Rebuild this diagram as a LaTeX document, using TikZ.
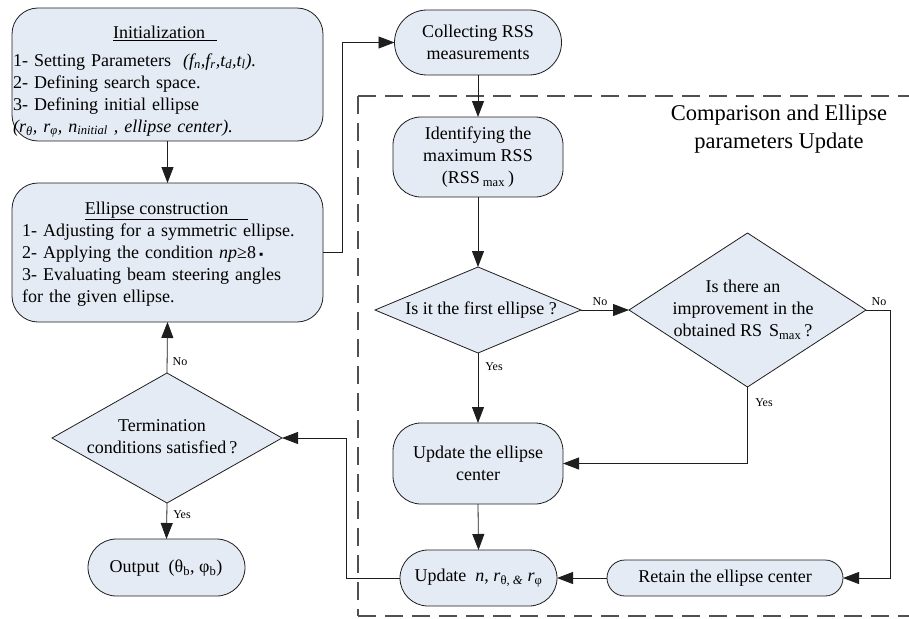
\documentclass[tikz,border=0pt]{standalone}
\usepackage{fontspec}
\setmainfont{Liberation Serif}
\usetikzlibrary{arrows.meta,shapes.geometric}
\definecolor{boxfill}{RGB}{229,235,244}
\definecolor{dashcol}{RGB}{80,80,80}
\definecolor{linecol}{RGB}{30,30,30}
\newcommand\mysub[1]{\textsubscript{#1}}
\tikzset{
  box/.style={draw=linecol, line width=0.8pt, fill=boxfill, rounded corners=26pt, inner sep=0pt, outer sep=0pt},
  dec/.style={diamond, draw=linecol, line width=0.8pt, fill=boxfill, inner sep=0pt, outer sep=0pt},
  txt/.style={font=\fontsize{18}{22}\selectfont, align=center, inner sep=0pt},
  lbl/.style={font=\fontsize{12}{14}\selectfont, inner sep=0pt},
  conn/.style={draw=linecol, line width=0.8pt, -{Triangle[length=16pt,width=12pt]}},
  plain/.style={draw=linecol, line width=0.8pt},
  dashframe/.style={draw=dashcol, line width=2.5pt, dash pattern=on 18pt off 9pt}
}
\begin{document}
\begin{tikzpicture}[x=1pt,y=-1pt]
\useasboundingbox (0,0) rectangle (909,618);
% dashed region
\coordinate (dtl) at (358,96);
\coordinate (dbl) at (358,616);
\coordinate (dtr) at (912,96);
\coordinate (dbr) at (912,616);
\draw[dashframe] (dtl) -- (dtr);
\draw[dashframe] (dtl) -- (dbl);
\draw[dashframe] (dbl) -- (dbr);
\node[txt, font=\fontsize{22.5}{28}\selectfont] (cmp) at (779,129) {Comparison and Ellipse\\parameters Update};

% left column
\node[box, minimum width=311pt, minimum height=133pt] (init) at (167.5,74.5) {};
\node[txt, anchor=base] (inittitle) at (165,39) {\underline{Initialization\hspace{12pt}}};
\node[txt, text width=305pt, align=left, anchor=north west] (inittxt) at (13,50.6) {\strut 1- Setting Parameters \ \textit{(f\mysub{n},f\mysub{r},t\mysub{d},t\mysub{l}).}\\
2- Defining search space.\\
3- Defining initial ellipse\\
\textit{(r\mysub{θ}, r\mysub{φ}, n\mysub{initial} , ellipse center).}};

\node[box, minimum width=311pt, minimum height=139pt] (ellc) at (167.5,252.5) {};
\node[txt, anchor=base] (ellctitle) at (166.5,214) {\underline{Ellipse construction\hspace{20pt}}};
\node[txt, text width=292pt, align=left, anchor=north west] (ellctxt) at (22,220.6) {\strut 1- Adjusting for a symmetric ellipse.\\
2- Applying the condition \textit{np}≥8\,{\fontsize{12}{12}\selectfont ▪}\\
3- Evaluating beam steering angles\\
for the given ellipse.};

\node[dec, minimum width=230pt, minimum height=130pt] (term) at (167,438) {};
\node[txt] (termtxt) at (162,437) {Termination\\conditions satisfied\,?};

\node[box, rounded corners=28.5pt, minimum width=157pt, minimum height=57pt] (out) at (166.5,567.5) {};
\node[txt] (outtxt) at (166,568) {Output \ (θ\mysub{b}, φ\mysub{b})};

% right column
\node[box, txt, rounded corners=32.5pt, minimum width=167pt, minimum height=65pt] (coll) at (478,42.5) {Collecting RSS\\measurements};
\node[box, txt, rounded corners=28pt, minimum width=170pt, minimum height=80pt] (ident) at (478,157) {Identifying the\\maximum RSS\\(RSS\,\mysub{max}\,)};
\node[dec, minimum width=206pt, minimum height=86pt] (d1) at (478,310) {};
\node[txt] (d1txt) at (481,310) {Is it the first ellipse ?};
\node[dec, minimum width=237pt, minimum height=154pt] (d2) at (747.5,310) {};
\node[txt] (d2txt) at (743,310) {Is there an\\improvement in the\\obtained RS\hspace{7pt}S\mysub{max}\,?};
\node[box, txt, rounded corners=28pt, minimum width=170pt, minimum height=81pt] (upc) at (478,463.5) {Update the ellipse\\center};
\node[box, txt, rounded corners=28pt, minimum width=157pt, minimum height=56pt] (updn) at (478.5,578) {Update \ \textit{n}, \textit{r}\mysub{θ, \textit{\&}} \textit{r}\mysub{φ}};
\node[box, txt, rounded corners=18pt, minimum width=236pt, minimum height=36pt] (ret) at (725,578) {Retain the ellipse center};

% connectors
\draw[conn] (init.south) -- (ellc.north);
\draw[conn] (ellc.east) -- ++(19,0) |- (coll.west);
\draw[conn] (coll.south) -- (ident.north);
\draw[conn] (ident.south) -- (d1.north);
\draw[conn] (d1.east) -- (d2.west);
\draw[conn] (d1.south) -- (upc.north);
\draw[conn] (d2.east) -- ++(24,0) |- (ret.east);
\draw[conn] (d2.south) |- (upc.east);
\draw[conn] (upc.south) -- (updn.north);
\draw[conn] (ret.west) -- (updn.east);
\draw[conn] (updn.west) -- ++(-54,0) |- (term.east);
\draw[conn] (term.north) -- (ellc.south);
\draw[conn] (term.south) -- (out.north);

% labels
\node[lbl] (l1) at (600,302) {No};
\node[lbl] (l2) at (879,302) {No};
\node[lbl] (l3) at (764,403) {Yes};
\node[lbl] (l4) at (494,367) {Yes};
\node[lbl] (l5) at (180,362) {No};
\node[lbl] (l6) at (182,515) {Yes};
\end{tikzpicture}
\end{document}
